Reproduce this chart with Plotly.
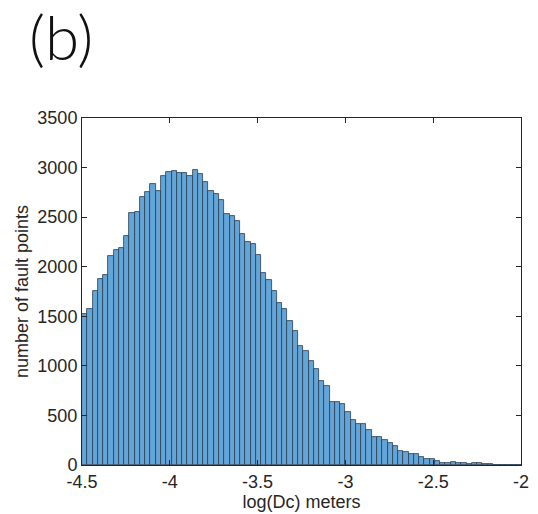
import numpy as np
import plotly.graph_objects as go

# Histogram of log10(Dc) over fault points, bin width 0.03
first_edge = -4.53
bin_width = 0.03
counts = [
    1393, 1524, 1574, 1758, 1876, 1919, 2111, 2171, 2188, 2312,
    2541, 2551, 2702, 2752, 2833, 2765, 2916, 2953, 2970, 2950,
    2943, 2916, 2977, 2937, 2853, 2765, 2735, 2668, 2534, 2507,
    2460, 2330, 2252, 2228, 2114, 1937, 1869, 1758, 1634, 1577,
    1452, 1356, 1204, 1150, 1053, 970, 852, 795, 640, 637,
    617, 535, 452, 416, 416, 350, 285, 285, 251, 218,
    187, 140, 134, 107, 107, 84, 63, 56, 39, 25,
    24, 26, 22, 20, 8, 18, 17, 15, 6, 5,
    3, 4, 2, 2, 1,
]
x_ticks = [-4.5, -4, -3.5, -3, -2.5, -2]
x_tick_text = ["-4.5", "-4", "-3.5", "-3", "-2.5", "-2"]
y_ticks = [0, 500, 1000, 1500, 2000, 2500, 3000, 3500]

edges = first_edge + bin_width * np.arange(len(counts) + 1)
centers = (edges[:-1] + edges[1:]) / 2

axis_color = "#262626"
font_family = "Liberation Sans, Arial, sans-serif"

fig = go.Figure(
    go.Bar(
        x=centers,
        y=counts,
        width=bin_width,
        marker=dict(color="rgb(98,165,214)",
                    line=dict(color="rgb(42,62,84)", width=0.8)),
        hoverinfo="x+y",
    )
)

fig.update_layout(
    width=538,
    height=514,
    margin=dict(l=82, r=17, t=118, b=49),
    paper_bgcolor="white",
    plot_bgcolor="white",
    bargap=0,
    showlegend=False,
    font=dict(family=font_family, size=18, color=axis_color),
    annotations=[
        dict(text="(b)", xref="paper", yref="paper", x=-0.125, y=1.348,
             xanchor="left", yanchor="top", showarrow=False,
             font=dict(family="Lato, Open Sans, sans-serif", size=62,
                       color="#111111", weight=300)),
    ],
)

fig.update_xaxes(
    range=[-4.5, -2],
    automargin=False,
    tickvals=x_ticks,
    ticktext=x_tick_text,
    ticks="inside",
    ticklen=5,
    tickcolor=axis_color,
    showline=True,
    linecolor=axis_color,
    linewidth=1,
    mirror="ticks",
    showgrid=False,
    zeroline=False,
    title=dict(text="log(Dc) meters", standoff=0,
               font=dict(size=18, color=axis_color)),
    tickfont=dict(size=18, color=axis_color),
)

fig.update_yaxes(
    range=[0, 3500],
    automargin=False,
    tickvals=y_ticks,
    ticks="inside",
    ticklen=5,
    tickcolor=axis_color,
    showline=True,
    linecolor=axis_color,
    linewidth=1,
    mirror="ticks",
    showgrid=False,
    zeroline=False,
    title=dict(text="number of fault points", standoff=4,
               font=dict(size=18, color=axis_color)),
    tickfont=dict(size=18, color=axis_color),
)

fig.write_html("out.html")
